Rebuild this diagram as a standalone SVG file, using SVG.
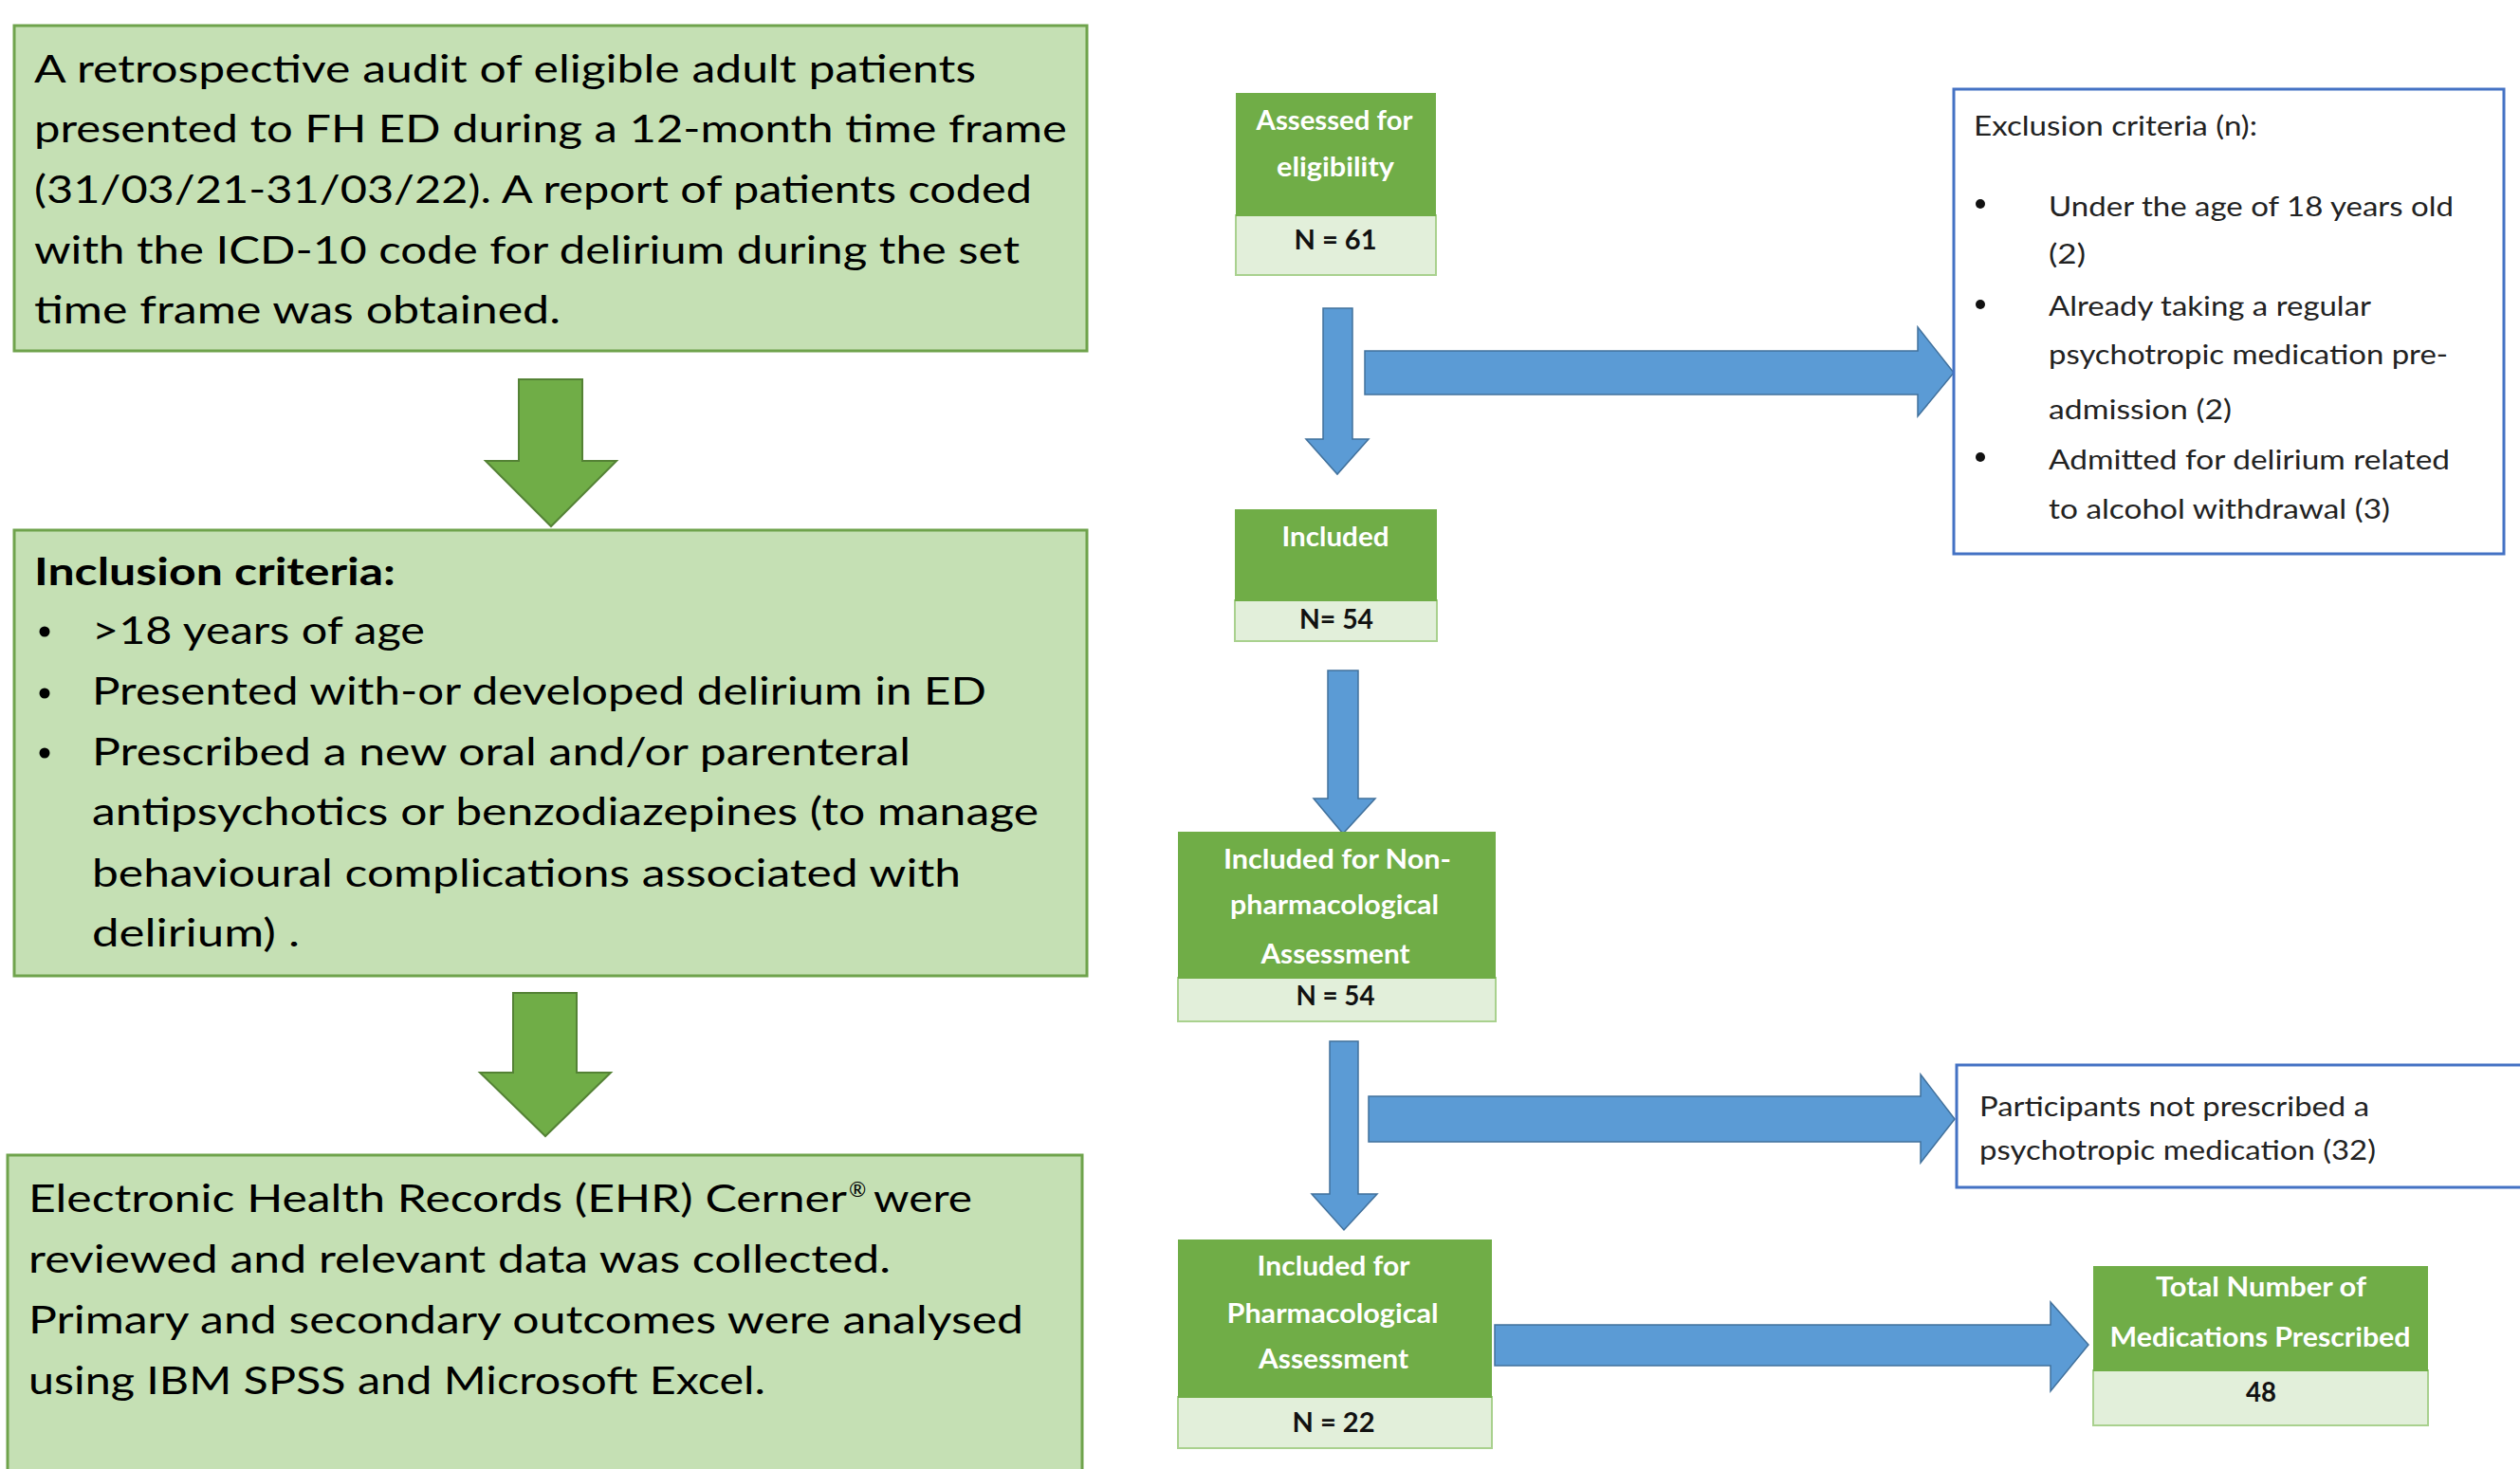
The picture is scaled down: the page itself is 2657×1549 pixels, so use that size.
<svg xmlns="http://www.w3.org/2000/svg" width="2657" height="1549" viewBox="0 0 2657 1549">
<style>
text{font-family:Lato,"Open Sans","Liberation Sans",sans-serif}
.lbox{fill:#C5E0B4;stroke:#6FA34C;stroke-width:3}
.ltx{font-size:41px;fill:#000}
.sup{font-size:22px;fill:#000}
.garrow{fill:#70AD47;stroke:#548235;stroke-width:2}
.barrow{fill:#5B9BD5;stroke:#41719C;stroke-width:1.5}
.hdr{fill:#70AD47}
.sub{fill:#E2EFDA;stroke:#A9D18E;stroke-width:2}
.ht{font-size:29px;fill:#fff;font-weight:bold;text-anchor:middle}
.nt{font-size:28px;fill:#111;font-weight:bold;text-anchor:middle}
.bbox{fill:#fff;stroke:#4472C4;stroke-width:3}
.rt{font-size:28px;fill:#222}
</style>
<rect width="2657" height="1549" fill="#fff"/>

<g id="connectors">
<polygon class="garrow" points="547,400 614,400 614,486 650,486 581,555 512,486 547,486"/>
<polygon class="garrow" points="541,1047 608,1047 608,1131 644,1131 575,1198 506,1131 541,1131"/>
<polygon class="barrow" points="1395,325 1426,325 1426,463 1443,463 1410,500 1377,463 1395,463"/>
<polygon class="barrow" points="1400,707 1432,707 1432,842 1450,842 1416,879 1385,842 1400,842"/>
<polygon class="barrow" points="1402,1098 1432,1098 1432,1259 1452,1259 1417,1297 1383,1259 1402,1259"/>
<polygon class="barrow" points="1439,370 2022,370 2022,345 2060,393 2022,439 2022,416 1439,416"/>
<polygon class="barrow" points="1443,1156 2025,1156 2025,1133 2061,1180 2025,1226 2025,1204 1443,1204"/>
<polygon class="barrow" points="1576,1397 2162,1397 2162,1373 2202,1418 2162,1467 2162,1440 1576,1440"/>
</g>

<g id="audit">
<rect class="lbox" x="15" y="27" width="1131" height="343"/>
<text class="ltx" x="36" y="87" textLength="993" lengthAdjust="spacingAndGlyphs">A retrospective audit of eligible adult patients</text>
<text class="ltx" x="36" y="150" textLength="1089" lengthAdjust="spacingAndGlyphs">presented to FH ED during a 12-month time frame</text>
<text class="ltx" x="36" y="214" textLength="1052" lengthAdjust="spacingAndGlyphs">(31/03/21-31/03/22). A report of patients coded</text>
<text class="ltx" x="36" y="278" textLength="1039" lengthAdjust="spacingAndGlyphs">with the ICD-10 code for delirium during the set</text>
<text class="ltx" x="36" y="341" textLength="555" lengthAdjust="spacingAndGlyphs">time frame was obtained.</text>
</g>

<g id="inclusion">
<rect class="lbox" x="15" y="559" width="1131" height="470"/>
<text class="ltx" x="36" y="617" font-weight="bold" textLength="381" lengthAdjust="spacingAndGlyphs">Inclusion criteria:</text>
<circle cx="47" cy="666" r="5.5"/>
<circle cx="47" cy="731" r="5.5"/>
<circle cx="47" cy="794" r="5.5"/>
<text class="ltx" x="97" y="679" textLength="351" lengthAdjust="spacingAndGlyphs">&gt;18 years of age</text>
<text class="ltx" x="97" y="743" textLength="943" lengthAdjust="spacingAndGlyphs">Presented with-or developed delirium in ED</text>
<text class="ltx" x="97" y="807" textLength="863" lengthAdjust="spacingAndGlyphs">Prescribed a new oral and/or parenteral</text>
<text class="ltx" x="97" y="870" textLength="998" lengthAdjust="spacingAndGlyphs">antipsychotics or benzodiazepines (to manage</text>
<text class="ltx" x="97" y="935" textLength="916" lengthAdjust="spacingAndGlyphs">behavioural complications associated with</text>
<text class="ltx" x="97" y="998" textLength="219" lengthAdjust="spacingAndGlyphs">delirium) .</text>
</g>

<g id="ehr">
<rect class="lbox" x="8" y="1218" width="1133" height="360"/>
<text class="ltx" x="30" y="1278" textLength="863" lengthAdjust="spacingAndGlyphs">Electronic Health Records (EHR) Cerner</text>
<text class="sup" x="895" y="1262">®</text>
<text class="ltx" x="921" y="1278" textLength="104" lengthAdjust="spacingAndGlyphs">were</text>
<text class="ltx" x="30" y="1342" textLength="909" lengthAdjust="spacingAndGlyphs">reviewed and relevant data was collected.</text>
<text class="ltx" x="30" y="1406" textLength="1049" lengthAdjust="spacingAndGlyphs">Primary and secondary outcomes were analysed</text>
<text class="ltx" x="30" y="1470" textLength="777" lengthAdjust="spacingAndGlyphs">using IBM SPSS and Microsoft Excel.</text>
</g>

<g id="assessed">
<rect class="sub" x="1303" y="227" width="211" height="63"/>
<rect class="hdr" x="1303" y="98" width="211" height="130"/>
<text class="ht" x="1407" y="137" textLength="165" lengthAdjust="spacingAndGlyphs">Assessed for</text>
<text class="ht" x="1408" y="186" textLength="124" lengthAdjust="spacingAndGlyphs">eligibility</text>
<text class="nt" x="1408" y="263" textLength="87" lengthAdjust="spacingAndGlyphs">N = 61</text>
</g>

<g id="exclusion">
<rect class="bbox" x="2060" y="94" width="580" height="490"/>
<text class="rt" x="2081" y="143" textLength="299" lengthAdjust="spacingAndGlyphs">Exclusion criteria (n):</text>
<circle cx="2088" cy="215" r="5" fill="#111"/>
<circle cx="2088" cy="321" r="5" fill="#111"/>
<circle cx="2088" cy="482" r="5" fill="#111"/>
<text class="rt" x="2160" y="228" textLength="427" lengthAdjust="spacingAndGlyphs">Under the age of 18 years old</text>
<text class="rt" x="2160" y="278" textLength="39" lengthAdjust="spacingAndGlyphs">(2)</text>
<text class="rt" x="2160" y="333" textLength="340" lengthAdjust="spacingAndGlyphs">Already taking a regular</text>
<text class="rt" x="2160" y="384" textLength="421" lengthAdjust="spacingAndGlyphs">psychotropic medication pre-</text>
<text class="rt" x="2160" y="442" textLength="193" lengthAdjust="spacingAndGlyphs">admission (2)</text>
<text class="rt" x="2160" y="495" textLength="423" lengthAdjust="spacingAndGlyphs">Admitted for delirium related</text>
<text class="rt" x="2160" y="547" textLength="360" lengthAdjust="spacingAndGlyphs">to alcohol withdrawal (3)</text>
</g>

<g id="included">
<rect class="sub" x="1302" y="633" width="213" height="43"/>
<rect class="hdr" x="1302" y="537" width="213" height="97"/>
<text class="ht" x="1408" y="576" textLength="113" lengthAdjust="spacingAndGlyphs">Included</text>
<text class="nt" x="1409" y="663" textLength="78" lengthAdjust="spacingAndGlyphs">N= 54</text>
</g>

<g id="nonpharm">
<rect class="sub" x="1242" y="1031" width="335" height="46"/>
<rect class="hdr" x="1242" y="877" width="335" height="155"/>
<text class="ht" x="1410" y="916" textLength="240" lengthAdjust="spacingAndGlyphs">Included for Non-</text>
<text class="ht" x="1407" y="964" textLength="220" lengthAdjust="spacingAndGlyphs">pharmacological</text>
<text class="ht" x="1408" y="1016" textLength="157" lengthAdjust="spacingAndGlyphs">Assessment</text>
<text class="nt" x="1408" y="1060" textLength="83" lengthAdjust="spacingAndGlyphs">N = 54</text>
</g>

<g id="notprescribed">
<rect class="bbox" x="2063" y="1123" width="620" height="129"/>
<text class="rt" x="2087" y="1177" textLength="411" lengthAdjust="spacingAndGlyphs">Participants not prescribed a</text>
<text class="rt" x="2087" y="1223" textLength="418" lengthAdjust="spacingAndGlyphs">psychotropic medication (32)</text>
</g>

<g id="pharm">
<rect class="sub" x="1242" y="1473" width="331" height="54"/>
<rect class="hdr" x="1242" y="1307" width="331" height="167"/>
<text class="ht" x="1406" y="1345" textLength="161" lengthAdjust="spacingAndGlyphs">Included for</text>
<text class="ht" x="1405" y="1395" textLength="223" lengthAdjust="spacingAndGlyphs">Pharmacological</text>
<text class="ht" x="1406" y="1443" textLength="158" lengthAdjust="spacingAndGlyphs">Assessment</text>
<text class="nt" x="1406" y="1510" textLength="87" lengthAdjust="spacingAndGlyphs">N = 22</text>
</g>

<g id="total">
<rect class="sub" x="2207" y="1445" width="353" height="58"/>
<rect class="hdr" x="2207" y="1335" width="353" height="111"/>
<text class="ht" x="2384" y="1367" textLength="222" lengthAdjust="spacingAndGlyphs">Total Number of</text>
<text class="ht" x="2383" y="1420" textLength="317" lengthAdjust="spacingAndGlyphs">Medications Prescribed</text>
<text class="nt" x="2384" y="1478" textLength="32" lengthAdjust="spacingAndGlyphs">48</text>
</g>
</svg>
